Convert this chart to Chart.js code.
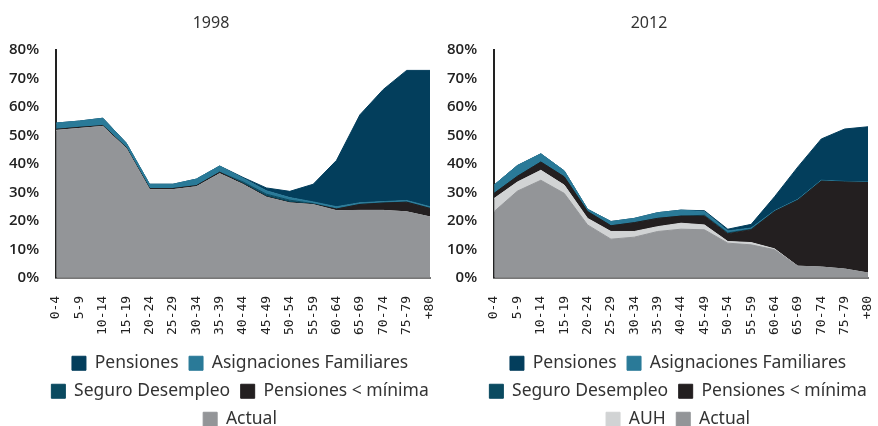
<!DOCTYPE html>
<html>
<head>
<meta charset="utf-8">
<script src="https://cdn.jsdelivr.net/npm/chart.js@4/dist/chart.umd.min.js"></script>
<style>
  body { margin: 0; background: #fff; }
  .wrap { display: flex; width: 878px; height: 426px; overflow: hidden; }
  .panel { position: relative; width: 439px; height: 438px; flex: none; }
</style>
</head>
<body>
<div class="wrap">
  <div class="panel"><canvas id="c1998"></canvas></div>
  <div class="panel"><canvas id="c2012"></canvas></div>
</div>
<script>
// grupos de edad
const edades = ['0-4','5-9','10-14','15-19','20-24','25-29','30-34','35-39','40-44','45-49',
                '50-54','55-59','60-64','65-69','70-74','75-79','+80'];
const yTicks = [0, 10, 20, 30, 40, 50, 60, 70, 80];

// 1998 (cada capa en puntos porcentuales, se apilan)
const actual98    = [51.8, 52.5, 53.2, 45.5, 31.0, 31.0, 32.0, 36.6, 32.8, 28.3, 26.3, 25.7, 23.6, 23.7, 23.7, 23.2, 21.4];
const auh98       = [0, 0, 0, 0, 0, 0, 0, 0, 0, 0, 0, 0, 0, 0, 0, 0, 0];
const pmin98      = [0.4, 0.4, 0.3, 0.3, 0.4, 0.4, 0.4, 0.5, 0.3, 0.3, 0.2, 0.2, 0.6, 2.1, 2.6, 3.4, 3.0];
const segDes98    = [0, 0, 0, 0, 0, 0, 0, 0, 0.6, 0.8, 0.8, 0.2, 0, 0, 0, 0, 0];
const asigFam98   = [2.2, 2.2, 2.6, 1.6, 1.5, 1.5, 2.3, 2.2, 1.3, 1.2, 0.9, 0.6, 0.8, 0.6, 0.5, 0.6, 0.6];
const pensiones98 = [0, 0, 0, 0, 0, 0, 0, 0, 0.3, 1.0, 2.2, 6.2, 16.3, 30.9, 39.4, 45.7, 47.9];

// 2012
const actual12    = [23.3, 30.5, 34.3, 29.7, 18.6, 13.6, 14.3, 16.3, 17.1, 16.9, 12.2, 11.6, 9.9, 4.1, 3.8, 3.1, 1.7];
const auh12       = [4.6, 3.2, 3.5, 2.9, 2.3, 2.7, 2.0, 1.7, 2.1, 1.7, 0.6, 0.8, 0.3, 0, 0, 0, 0];
const pmin12      = [1.8, 2.0, 2.9, 2.9, 2.4, 2.0, 3.1, 2.9, 2.5, 3.1, 2.7, 4.5, 13.1, 23.2, 30.2, 30.6, 31.8];
const segDes12    = [0, 0, 0, 0, 0, 0, 0, 0, 0, 0.3, 0.3, 0.2, 0, 0, 0, 0, 0];
const asigFam12   = [2.9, 3.8, 2.9, 2.1, 0.8, 1.5, 1.5, 2.0, 2.1, 1.3, 0.7, 0.4, 0.3, 0.3, 0.3, 0.2, 0.2];
const pensiones12 = [0, 0, 0, 0, 0, 0, 0, 0, 0, 0.3, 0.6, 1.3, 4.9, 11.4, 14.5, 18.4, 19.4];

const colores = {
  actual: '#939598',
  auh: '#d1d3d4',
  pmin: '#231f20',
  segDes: '#0a4a60',
  asigFam: '#2a7a98',
  pensiones: '#033e5c'
};

// la leyenda va centrada bajo el area del grafico, no bajo todo el canvas
const centrarLeyenda = {
  id: 'centrarLeyenda',
  beforeDraw(chart) {
    const lg = chart.legend, ca = chart.chartArea;
    const d = (ca.left + ca.right) / 2 - 3 - (lg.left + lg.right) / 2;
    lg.left += d;
    lg.right += d;
  }
};

function capa(label, data, color, first, hidden) {
  return {
    label: label,
    data: data,
    backgroundColor: color,
    borderColor: color,
    borderWidth: 1,
    pointRadius: 0,
    tension: 0,
    fill: first ? 'origin' : '-1',
    hiddenInLegend: hidden
  };
}

function grafico(id, titulo, capas, padLeft, padRight) {
  const ctx = document.getElementById(id).getContext('2d');
  return new Chart(ctx, {
    type: 'line',
    data: { labels: edades, datasets: capas },
    plugins: [centrarLeyenda],
    options: {
      responsive: true,
      maintainAspectRatio: false,
      animation: false,
      layout: { padding: { left: padLeft, right: padRight, top: 4, bottom: 0 } },
      plugins: {
        title: {
          display: true,
          text: titulo,
          color: '#333',
          font: { family: 'Noto Sans', size: 16, weight: 'normal' },
          padding: { top: 10, bottom: 17 }
        },
        legend: {
          position: 'bottom',
          reverse: true,
          labels: {
            color: '#333',
            boxWidth: 14,
            boxHeight: 14,
            padding: 10.5,
            font: { family: 'Noto Sans', size: 17.5 },
            filter: (item, data) => !data.datasets[item.datasetIndex].hiddenInLegend
          }
        },
        tooltip: { enabled: false }
      },
      scales: {
        x: {
          offset: false,
          grid: { display: false, drawTicks: false },
          border: { color: '#777', width: 2 },
          afterFit: (scale) => {
            scale.paddingLeft = 0;
            scale.paddingRight = 0;
            scale.height = scale.height - 9;
          },
          ticks: {
            color: '#222',
            minRotation: 90,
            maxRotation: 90,
            padding: 18,
            autoSkip: false,
            font: { family: 'DejaVu Sans Mono', size: 13 }
          }
        },
        y: {
          stacked: true,
          min: 0,
          max: 80,
          grid: { display: false, drawTicks: false },
          border: { color: '#222', width: 2 },
          afterBuildTicks: (axis) => { axis.ticks = yTicks.map(v => ({ value: v })); },
          ticks: {
            color: '#222',
            padding: 17,
            font: { family: 'Open Sans', size: 15, weight: '600' },
            callback: (v) => v + '%'
          }
        }
      }
    }
  });
}

grafico('c1998', '1998', [
  capa('Actual', actual98, colores.actual, true, false),
  capa('AUH', auh98, colores.auh, false, true),
  capa('Pensiones < mínima', pmin98, colores.pmin, false, false),
  capa('Seguro Desempleo', segDes98, colores.segDes, false, false),
  capa('Asignaciones Familiares', asigFam98, colores.asigFam, false, false),
  capa('Pensiones', pensiones98, colores.pensiones, false, false)
], -8, 9);

grafico('c2012', '2012', [
  capa('Actual', actual12, colores.actual, true, false),
  capa('AUH', auh12, colores.auh, false, false),
  capa('Pensiones < mínima', pmin12, colores.pmin, false, false),
  capa('Seguro Desempleo', segDes12, colores.segDes, false, false),
  capa('Asignaciones Familiares', asigFam12, colores.asigFam, false, false),
  capa('Pensiones', pensiones12, colores.pensiones, false, false)
], -9, 10);
</script>
</body>
</html>
